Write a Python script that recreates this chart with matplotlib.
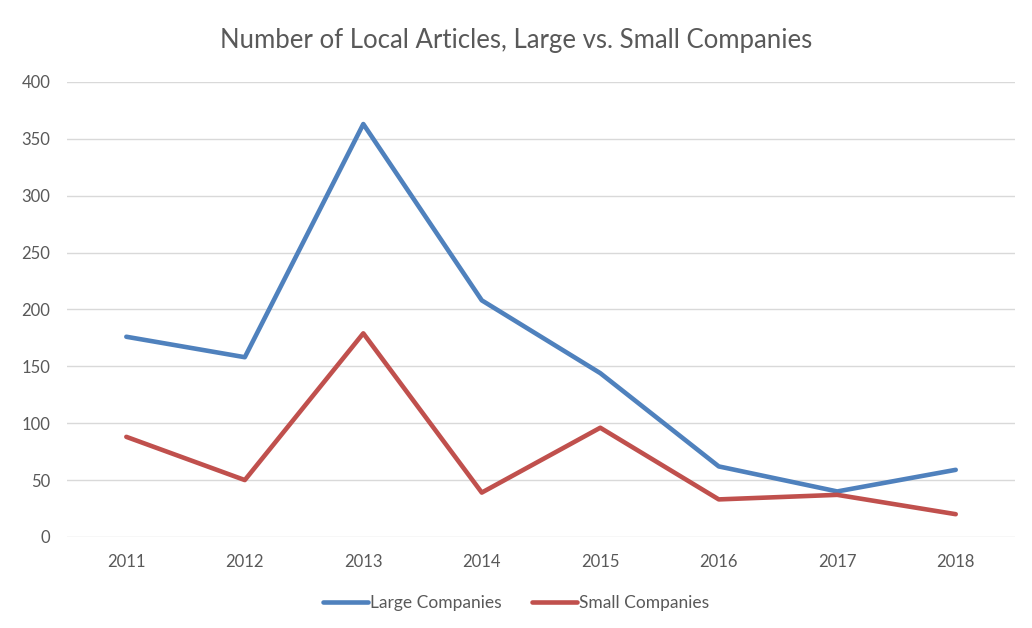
import matplotlib
matplotlib.use("Agg")
import matplotlib.pyplot as plt

years = ["2011", "2012", "2013", "2014", "2015", "2016", "2017", "2018"]
large = [176, 158, 363, 208, 144, 62, 40, 59]
small = [88, 50, 179, 39, 96, 33, 37, 20]
y_ticks = [0, 50, 100, 150, 200, 250, 300, 350, 400]

plt.rcParams['font.family'] = ['Lato', 'DejaVu Sans']
fig = plt.figure(figsize=(10.32, 6.28), dpi=100)
ax = fig.add_axes([0.065, 0.145, 0.9185, 0.7245])
x = list(range(len(years)))
ax.plot(x, large, color='#4F81BD', lw=3.3, solid_capstyle='round', solid_joinstyle='round', label='Large Companies')
ax.plot(x, small, color='#C0504D', lw=3.3, solid_capstyle='round', solid_joinstyle='round', label='Small Companies')
ax.set_xlim(-0.5, len(years) - 0.5)
ax.set_ylim(0, 400)
ax.set_xticks(x)
ax.set_xticklabels(years)
ax.set_yticks(y_ticks)
ax.grid(axis='y', color='#d9d9d9', lw=1)
ax.set_axisbelow(True)
for s in ax.spines.values():
    s.set_visible(False)
ax.tick_params(length=0, labelsize=12, colors='#595959', pad=12)
fig.text(0.5, 0.935, "Number of Local Articles, Large vs. Small Companies", ha='center', va='center', fontsize=18.5, color='#595959')
fig.legend(loc='center', bbox_to_anchor=(0.5, 0.04), ncol=2, frameon=False, fontsize=12.5,
           labelcolor='#595959', handlelength=2.6, handletextpad=0.15, columnspacing=1.7)
fig.savefig("out.png", dpi=100, facecolor='white')
